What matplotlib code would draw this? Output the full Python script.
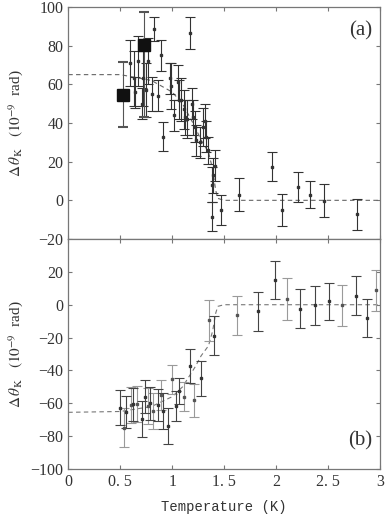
import numpy as np
import matplotlib
matplotlib.use('Agg')
from matplotlib import pyplot as plt

###Data
# panel (a): small points
temp_a = [0.59, 0.63, 0.64, 0.67, 0.71, 0.72, 0.75, 0.77, 0.81, 0.83, 0.86, 0.89,
          0.91, 0.98, 0.99, 1.02, 1.06, 1.07, 1.09, 1.11, 1.12, 1.14, 1.17, 1.19,
          1.20, 1.22, 1.23, 1.27, 1.30, 1.32, 1.33, 1.35, 1.38, 1.39, 1.41, 1.38,
          1.475, 1.64, 1.96, 2.06, 2.21, 2.33, 2.46, 2.78]
kerr_a = [71, 63, 56, 72, 50, 63, 57, 72, 55, 88.6, 54, 75,
          33, 63, 59, 44, 61, 52, 52, 47, 43, 42, 86.5, 50,
          43, 38, 31, 30, 38, 41, 33, 26, 8, 13, 18, -8.5,
          -5, 3, 17.4, -5, 6.7, 3, -0.3, -7.3]
err_a = [12, 14, 8, 13, 8, 14, 14, 12, 9, 6, 8, 8,
         7.5, 8, 12, 8, 9, 10, 11, 10, 9, 10, 8.5, 8,
         9, 8, 8, 8, 10, 9, 8, 7, 9, 9, 8, 7.5,
         8, 8.7, 7.5, 8.5, 7.8, 7, 8.5, 8]
# panel (a): big squares
temp_big = [0.53, 0.73]
kerr_big = [54.7, 80.3]
err_big_lo = [17, 37]
err_big_hi = [17, 17]

# panel (b): two groups of points (dark and light bars)
temp_b_dark = [0.50, 0.56, 0.625, 0.71, 0.74, 0.79, 0.86, 0.91, 0.96, 1.04, 1.07,
               1.17, 1.28, 1.40, 1.83, 1.99, 2.23, 2.38, 2.51, 2.77, 2.875]
kerr_b_dark = [-62.7, -65.3, -60.6, -69.7, -56, -60, -61, -64.6, -73.7, -61.6, -52.5,
               -37.4, -44.8, -18.8, -4, 15.2, -2.4, -0.4, 2, 5.6, -8.1]
err_b_dark = [10.6, 10, 10, 11, 10, 10, 10, 11, 11, 9, 8,
              10.3, 10.6, 12, 12, 11.5, 11.8, 11.8, 11.4, 11.6, 11.4]
temp_b_light = [0.54, 0.60, 0.66, 0.77, 0.82, 0.89, 1.00, 1.115, 1.21, 1.355, 1.62,
                2.11, 2.64, 2.96]
kerr_b_light = [-74.8, -61, -60.6, -61.6, -64.6, -55, -45.5, -56, -58.2, -9.5, -6.5,
                3.6, -0.4, 8.7]
err_b_light = [12, 11, 11, 11, 11, 9, 9, 9, 10, 12.6, 12,
               12.8, 12.5, 12.6]

# dashed guide lines
temp_fit = [0, 0.5, 0.8, 1.0, 1.1, 1.22, 1.28, 1.35, 1.39, 1.42, 1.44, 1.5, 3.0]
fit_a = [65, 65, 62, 56, 50, 38, 31, 25, 16, 5, 1, 0, 0]
fit_b = [-65.5, -65, -62, -56, -50, -38, -31, -25, -16, -5, -1, 0, 0]

xticks = [0, 0.5, 1, 1.5, 2, 2.5, 3]
xticklabels = ['0', '0. 5', '1', '1. 5', '2', '2. 5', '3']

###Plot
plt.rcParams['font.family'] = ['Liberation Serif', 'DejaVu Serif']
plt.rcParams['mathtext.fontset'] = 'stix'
dark = '#333333'
light = '#9a9a9a'
spine = '#777777'

fig = plt.figure(figsize=(3.88, 5.18), dpi=100)
ax1 = fig.add_axes([0.176, 0.5386, 0.803, 0.448])
ax2 = fig.add_axes([0.176, 0.0946, 0.803, 0.444])

ebkw = dict(fmt='s', markersize=2, elinewidth=0.8, capsize=3.5, capthick=0.8)
ylab = r'$\Delta\,\theta_{\rm K}$   $(10^{-9}$  rad)'

ax1.plot(temp_fit, fit_a, '--', color='#666666', linewidth=0.8, dashes=(4, 3))
ax1.errorbar(temp_a, kerr_a, yerr=err_a, color=dark, ecolor=dark, **ebkw)
ax1.errorbar(temp_big, kerr_big, yerr=[err_big_lo, err_big_hi], fmt='s', markersize=8,
             color='#111111', ecolor='#555555', elinewidth=0.8, capsize=3.5, capthick=1.5)
ax1.set_ylim([-20, 100])
ax1.set_yticks(range(-20, 101, 20))
ax1.text(0.975, 0.94, '(a)', transform=ax1.transAxes, ha='right', va='top', fontsize=15, color=dark)
ax1.set_ylabel(ylab, fontsize=11, color=dark)

ax2.plot(temp_fit, fit_b, '--', color='#777777', linewidth=0.8, dashes=(4, 3))
ax2.errorbar(temp_b_light, kerr_b_light, yerr=err_b_light, color='#555555', ecolor=light, **ebkw)
ax2.errorbar(temp_b_dark, kerr_b_dark, yerr=err_b_dark, color=dark, ecolor='#444444', **ebkw)
ax2.set_ylim([-100, 40])
ax2.set_yticks(range(-100, 21, 20))
ax2.text(0.975, 0.08, '(b)', transform=ax2.transAxes, ha='right', va='bottom', fontsize=15, color=dark)
ax2.set_ylabel(ylab, fontsize=11, color=dark)
ax2.set_xlabel('Temperature (K)', family='Liberation Mono', fontsize=10, color=dark, labelpad=7)

for ax in (ax1, ax2):
    ax.set_xlim([0, 3])
    ax.set_xticks(xticks)
    ax.yaxis.set_label_coords(-0.14, 0.5)
    ax.tick_params(direction='in', top=True, right=True, length=3, width=0.8,
                   colors=spine, labelcolor=dark, labelsize=11.5)
    for s in ax.spines.values():
        s.set_color(spine)
        s.set_linewidth(0.9)
ax1.set_xticklabels([])
ax2.set_xticklabels(xticklabels)

plt.savefig('out.png', dpi=100)
